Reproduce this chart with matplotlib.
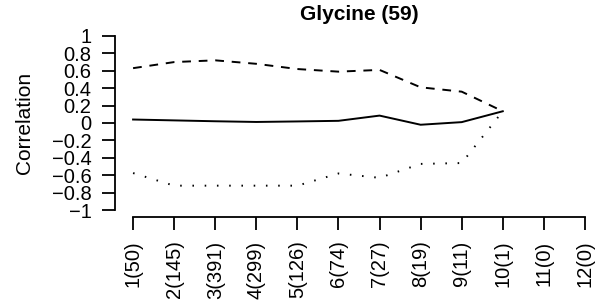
import matplotlib
matplotlib.use("Agg")
import matplotlib.pyplot as plt
import numpy as np

plt.rcParams['font.family'] = ['Liberation Sans', 'DejaVu Sans']

categories = ["1(50)", "2(145)", "3(391)", "4(299)", "5(126)", "6(74)",
              "7(27)", "8(19)", "9(11)", "10(1)", "11(0)", "12(0)"]
x_data = [1, 2, 3, 4, 5, 6, 7, 8, 9, 10]
mean_vals = [0.04, 0.03, 0.02, 0.012, 0.018, 0.025, 0.085, -0.02, 0.01, 0.135]
upper_vals = [0.63, 0.70, 0.72, 0.68, 0.62, 0.59, 0.61, 0.41, 0.36, 0.135]
lower_vals = [-0.575, -0.72, -0.72, -0.72, -0.72, -0.58, -0.63, -0.47, -0.46, 0.135]
yticks = [1, 0.8, 0.6, 0.4, 0.2, 0, -0.2, -0.4, -0.6, -0.8, -1]
ytick_labels = ["1", "0.8", "0.6", "0.4", "0.2", "0", "\u22120.2", "\u22120.4",
                "\u22120.6", "\u22120.8", "\u22121"]

W, H = 595, 305
fig = plt.figure(figsize=(W / 100, H / 100), dpi=100)
ax = fig.add_axes([115 / W, 1 - 217 / H, (603 - 115) / W, (217 - 29) / H])
ax.set_xlim(0.56, 12.44)
ax.set_ylim(-1.08, 1.08)

lw = 1.4
ax.plot(x_data, mean_vals, color='black', lw=lw, linestyle='-')
ax.plot(x_data, upper_vals, color='black', lw=lw, linestyle=(0, (4.5, 4)))
ax.plot(x_data, lower_vals, color='black', lw=lw, linestyle=(0, (0.8, 5.5)))

for s in ['top', 'right']:
    ax.spines[s].set_visible(False)
ax.spines['left'].set_bounds(-1, 1)
ax.spines['bottom'].set_bounds(1, 12)
for s in ['left', 'bottom']:
    ax.spines[s].set_linewidth(1.3)

ax.set_yticks(yticks)
ax.set_yticklabels(ytick_labels, fontsize=14.5)
ax.set_xticks(range(1, 13))
ax.set_xticklabels(categories, rotation=90, fontsize=14.5)
ax.tick_params(axis='both', direction='out', length=9.5, width=1.3)
ax.tick_params(axis='y', pad=7.5)
ax.tick_params(axis='x', pad=7.5)

ax.set_ylabel("Correlation", fontsize=15)
ax.yaxis.set_label_coords((34 - 115) / (603 - 115), 0.5)

fig.text(359 / W, 1 - 15 / H, "Glycine (59)", ha='center', va='center',
         fontsize=15, fontweight='bold')

fig.savefig("out.png", dpi=100)
